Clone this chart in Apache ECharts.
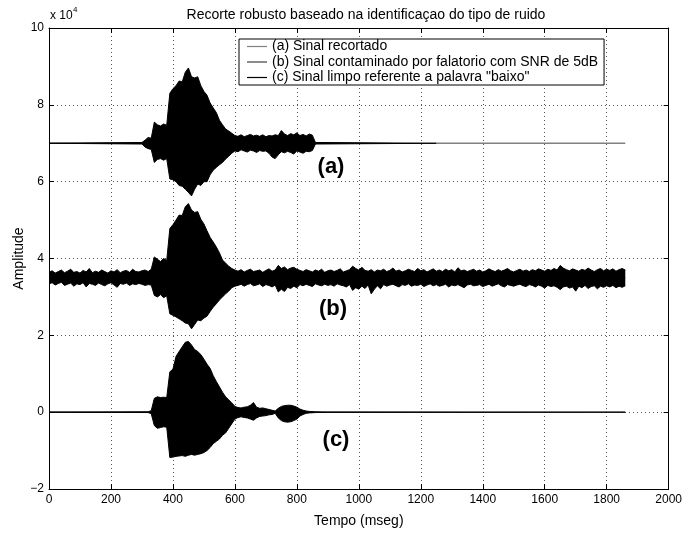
<!DOCTYPE html>
<html>
<head>
<meta charset="utf-8">
<script src="https://cdn.jsdelivr.net/npm/echarts@6/dist/echarts.min.js"></script>
<style>html,body{margin:0;padding:0;background:#fff;}#chart{width:685px;height:534px;}</style>
</head>
<body>
<div id="chart"></div>
<script>
// ---- data (amplitudes in units of 1e4) ----
const xTicks = [0, 200, 400, 600, 800, 1000, 1200, 1400, 1600, 1800, 2000];
const yTicks = [-2, 0, 2, 4, 6, 8, 10];
const names = [
  '(a) Sinal recortado',
  '(b) Sinal contaminado por falatorio com SNR de 5dB',
  '(c) Sinal limpo referente a palavra "baixo"'
];
const offsets = [7, 3.5, 0];

// (a) clipped signal envelope
const aT  = [0, 300, 310, 320, 330, 340, 350, 360, 370, 380, 390, 400, 410, 420, 430, 440, 450, 460, 470, 480, 490, 500, 510, 520, 530, 540, 550, 560, 570, 580, 590, 600, 610, 620, 630, 640, 650, 660, 670, 680, 690, 700, 710, 720, 730, 740, 750, 760, 770, 780, 790, 800, 810, 820, 830, 840, 850, 860, 1250];
const aHi = [0, 0.02, 0.08, 0.15, 0.13, 0.55, 0.48, 0.45, 0.5, 0.47, 1.3, 1.42, 1.5, 1.62, 1.6, 1.85, 1.96, 1.73, 1.7, 1.73, 1.5, 1.35, 1.25, 1.05, 0.92, 0.8, 0.6, 0.48, 0.37, 0.32, 0.26, 0.2, 0.18, 0.22, 0.17, 0.2, 0.23, 0.19, 0.21, 0.18, 0.22, 0.17, 0.2, 0.19, 0.22, 0.2, 0.33, 0.24, 0.2, 0.25, 0.22, 0.27, 0.2, 0.23, 0.19, 0.24, 0.21, 0.02, 0];
const aLo = [0, -0.02, -0.1, -0.14, -0.16, -0.5, -0.42, -0.4, -0.44, -0.4, -0.93, -0.95, -1.0, -1.1, -1.12, -1.2, -1.28, -1.37, -1.2, -1.06, -1.1, -1.0, -1.0, -0.82, -0.7, -0.63, -0.56, -0.5, -0.41, -0.34, -0.26, -0.2, -0.22, -0.17, -0.2, -0.23, -0.18, -0.2, -0.24, -0.19, -0.21, -0.2, -0.26, -0.36, -0.4, -0.3, -0.22, -0.25, -0.21, -0.24, -0.28, -0.2, -0.23, -0.26, -0.21, -0.22, -0.19, -0.02, 0];
const aTailT = [1250, 1860];
const aTail  = [0, 0];

// (b) noisy signal envelope, sampled every 10 ms from 0 to 1860 ms
const bStep = 10;
const bHi = [
  0.14, 0.18, 0.12, 0.16, 0.2, 0.13, 0.17, 0.22, 0.14, 0.16,
  0.12, 0.19, 0.15, 0.24, 0.13, 0.17, 0.14, 0.2, 0.16, 0.12,
  0.18, 0.15, 0.21, 0.13, 0.17, 0.19, 0.14, 0.22, 0.16, 0.15,
  0.18, 0.2, 0.16, 0.22,
  0.54, 0.48, 0.42, 0.5, 0.45, 1.28, 1.38, 1.5, 1.63, 1.62, 1.85, 1.93, 1.76, 1.7, 1.72, 1.52, 1.4, 1.22, 1.05, 0.93, 0.8, 0.65, 0.46, 0.38, 0.3, 0.24, 0.2,
  0.17, 0.21, 0.15, 0.19, 0.22, 0.16, 0.18, 0.2, 0.14, 0.19,
  0.23, 0.17, 0.2, 0.32, 0.24, 0.28, 0.21, 0.25, 0.27, 0.22,
  0.19, 0.16, 0.21, 0.18, 0.15, 0.2, 0.17, 0.22, 0.14, 0.18,
  0.2, 0.16, 0.19, 0.23, 0.15, 0.18, 0.21, 0.3, 0.24, 0.2,
  0.27, 0.19, 0.17, 0.21, 0.15, 0.2, 0.18, 0.22, 0.16, 0.19,
  0.25, 0.17, 0.2, 0.15, 0.18, 0.22, 0.19, 0.16, 0.24, 0.18,
  0.21, 0.15, 0.19, 0.23, 0.17, 0.2, 0.16, 0.22, 0.18, 0.21,
  0.15, 0.26, 0.18, 0.2, 0.16, 0.19, 0.22, 0.17, 0.2, 0.15,
  0.18, 0.23, 0.19, 0.16, 0.21, 0.17, 0.2, 0.24, 0.18, 0.15,
  0.19, 0.22, 0.17, 0.2, 0.16, 0.21, 0.18, 0.23, 0.2, 0.17,
  0.22, 0.19, 0.24, 0.2, 0.32, 0.25, 0.21, 0.18, 0.23, 0.2,
  0.17, 0.22, 0.19, 0.25, 0.2, 0.16, 0.21, 0.24, 0.18, 0.22,
  0.19, 0.23, 0.17, 0.21, 0.24, 0.2
];
const bLo = [
  -0.16, -0.13, -0.19, -0.15, -0.12, -0.2, -0.17, -0.14, -0.22, -0.16,
  -0.18, -0.13, -0.24, -0.15, -0.17, -0.2, -0.14, -0.18, -0.21, -0.16,
  -0.13, -0.19, -0.25, -0.15, -0.17, -0.14, -0.2, -0.16, -0.18, -0.15,
  -0.17, -0.2, -0.18, -0.19,
  -0.46, -0.5, -0.44, -0.52, -0.47, -0.94, -0.98, -1.02, -1.07, -1.12, -1.18, -1.2, -1.33, -1.22, -1.1, -1.12, -1.05, -1.0, -0.88, -0.77, -0.68, -0.58, -0.5, -0.42, -0.35, -0.26, -0.22,
  -0.2, -0.17, -0.22, -0.18, -0.15, -0.21, -0.19, -0.16, -0.23, -0.18,
  -0.2, -0.24, -0.19, -0.37, -0.3, -0.36, -0.25, -0.28, -0.22, -0.26,
  -0.18, -0.21, -0.17, -0.2, -0.23, -0.16, -0.19, -0.21, -0.17, -0.2,
  -0.18, -0.22, -0.16, -0.19, -0.21, -0.24, -0.18, -0.33, -0.26, -0.3,
  -0.22, -0.28, -0.19, -0.42, -0.3, -0.21, -0.29, -0.18, -0.22, -0.19,
  -0.17, -0.21, -0.24, -0.18, -0.2, -0.16, -0.22, -0.19, -0.2, -0.17,
  -0.23, -0.19, -0.16, -0.21, -0.18, -0.22, -0.2, -0.17, -0.24, -0.19,
  -0.21, -0.18, -0.22, -0.26, -0.19, -0.17, -0.21, -0.2, -0.18, -0.23,
  -0.2, -0.17, -0.22, -0.19, -0.16, -0.21, -0.24, -0.18, -0.2, -0.22,
  -0.19, -0.17, -0.21, -0.23, -0.18, -0.2, -0.24, -0.19, -0.22, -0.27,
  -0.2, -0.23, -0.21, -0.25, -0.31, -0.24, -0.22, -0.27, -0.24, -0.35,
  -0.22, -0.26, -0.2, -0.28, -0.23, -0.21, -0.29, -0.22, -0.25, -0.21,
  -0.24, -0.2, -0.26, -0.22, -0.25, -0.21
];

// (c) clean reference signal envelope
const cT  = [0, 320, 330, 340, 350, 360, 370, 380, 390, 400, 410, 420, 430, 440, 450, 460, 470, 480, 490, 500, 510, 520, 530, 540, 550, 560, 570, 580, 590, 600, 610, 620, 630, 640, 650, 660, 670, 680, 690, 700, 710, 720, 730, 740, 750, 760, 770, 780, 790, 800, 810, 820, 830, 840, 860, 900, 1860];
const cHi = [0, 0.01, 0.04, 0.36, 0.4, 0.38, 0.39, 0.38, 1.05, 1.12, 1.45, 1.58, 1.7, 1.82, 1.84, 1.75, 1.63, 1.58, 1.5, 1.38, 1.25, 1.14, 0.95, 0.8, 0.66, 0.52, 0.4, 0.32, 0.24, 0.15, 0.12, 0.11, 0.13, 0.14, 0.18, 0.25, 0.13, 0.1, 0.11, 0.09, 0.07, 0.05, 0.03, 0.1, 0.15, 0.17, 0.18, 0.18, 0.16, 0.13, 0.08, 0.05, 0.03, 0.02, 0.01, 0, 0];
const cLo = [0, -0.01, -0.04, -0.35, -0.42, -0.4, -0.38, -0.39, -1.18, -1.17, -1.15, -1.14, -1.13, -1.15, -1.12, -1.1, -1.12, -1.1, -1.08, -1.05, -1.0, -0.92, -0.82, -0.76, -0.7, -0.6, -0.54, -0.42, -0.3, -0.18, -0.14, -0.12, -0.14, -0.15, -0.18, -0.21, -0.15, -0.11, -0.1, -0.09, -0.07, -0.06, -0.03, -0.15, -0.22, -0.25, -0.26, -0.25, -0.22, -0.18, -0.1, -0.06, -0.03, -0.02, -0.01, 0, 0];

const legendColors = ['#808080', '#404040', '#000000'];
const FONT = 'Liberation Sans, Arial, Helvetica, sans-serif';

// ---- build series ----
function pts(ts, vs, off) { return ts.map((t, i) => [t, off + vs[i]]); }
const bT = bHi.map((_, i) => i * bStep);
const SEAM = 0.012; // tiny overlap of the two half-fills to avoid an antialias seam

function band(name, ts, vs, off, dir) {
  return {
    name: name, type: 'line', data: pts(ts, vs, off), showSymbol: false, symbol: 'none',
    silent: true, animation: false, z: 3,
    lineStyle: { color: '#000', width: 1 },
    itemStyle: { color: '#000' },
    areaStyle: { color: '#000', opacity: 1, origin: off - dir * SEAM }
  };
}

const series = [
  { name: names[0], type: 'line', data: pts(aTailT, aTail, offsets[0]), showSymbol: false, symbol: 'none', animation: false,
    lineStyle: { color: '#808080', width: 1.6 }, itemStyle: { color: '#808080' }, z: 2 },
  band(names[0], aT, aHi, offsets[0], 1),
  band(names[0], aT, aLo, offsets[0], -1),
  band(names[1], bT, bHi, offsets[1], 1),
  band(names[1], bT, bLo, offsets[1], -1),
  band(names[2], cT, cHi, offsets[2], 1),
  band(names[2], cT, cLo, offsets[2], -1)
];

function tickCfg() { return { show: true, inside: true, length: 5, lineStyle: { color: '#000', width: 1 } }; }
function lineCfg() { return { show: true, onZero: false, lineStyle: { color: '#000', width: 1 } }; }

const chart = echarts.init(document.getElementById('chart'), null, { renderer: 'canvas' });
chart.setOption({
  animation: false,
  backgroundColor: '#fff',
  textStyle: { fontFamily: FONT },
  title: {
    text: 'Recorte robusto baseado na identificaçao do tipo de ruido',
    left: 361, top: 3, textAlign: 'center',
    textStyle: { fontSize: 14, fontWeight: 'normal', color: '#000', fontFamily: FONT }
  },
  grid: { left: 49, right: 14, top: 28, bottom: 45, containLabel: false },
  legend: {
    data: names.map((n, i) => ({ name: n, icon: 'rect', itemStyle: { color: legendColors[i] } })),
    orient: 'vertical', left: 239, top: 39,
    itemWidth: 20, itemHeight: 1.2, itemGap: 0.5,
    padding: [0, 6, 0, 8],
    backgroundColor: '#fff', borderColor: '#000', borderWidth: 1, borderRadius: 0,
    selectedMode: false,
    textStyle: { fontSize: 14, color: '#000', fontFamily: FONT, lineHeight: 15 },
    z: 10
  },
  xAxis: [
    {
      type: 'value', min: xTicks[0], max: xTicks[xTicks.length - 1], interval: 200,
      position: 'bottom', axisLine: lineCfg(), axisTick: tickCfg(),
      name: 'Tempo (mseg)', nameLocation: 'middle', nameGap: 25, nameMoveOverlap: false,
      nameTextStyle: { fontSize: 14, color: '#000', fontFamily: FONT },
      axisLabel: { show: true, color: '#000', fontSize: 12, margin: 5, fontFamily: FONT, formatter: v => String(v) },
      splitLine: { show: true, lineStyle: { color: '#555', width: 1, type: [1, 3] } }
    },
    {
      type: 'value', min: xTicks[0], max: xTicks[xTicks.length - 1], interval: 200,
      position: 'top', axisLine: lineCfg(), axisTick: tickCfg(),
      axisLabel: { show: false }, splitLine: { show: false }
    }
  ],
  yAxis: [
    {
      type: 'value', min: yTicks[0], max: yTicks[yTicks.length - 1], interval: 2,
      position: 'left', axisLine: lineCfg(), axisTick: tickCfg(),
      name: 'Amplitude', nameLocation: 'middle', nameGap: 23, nameRotate: 90, nameMoveOverlap: false,
      nameTextStyle: { fontSize: 14, color: '#000', fontFamily: FONT },
      axisLabel: { show: true, color: '#000', fontSize: 12, margin: 5, fontFamily: FONT,
        formatter: v => String(v).replace('-', '\u2212') },
      splitLine: { show: true, lineStyle: { color: '#555', width: 1, type: [1, 3] } }
    },
    {
      type: 'value', min: yTicks[0], max: yTicks[yTicks.length - 1], interval: 2,
      position: 'right', axisLine: lineCfg(), axisTick: tickCfg(),
      axisLabel: { show: false }, splitLine: { show: false }
    }
  ],
  graphic: [
    { type: 'text', left: 50, top: 10, style: { text: 'x 10', fill: '#000', font: '12px ' + FONT } },
    { type: 'text', left: 73, top: 6, style: { text: '4', fill: '#000', font: '8px ' + FONT } },
    { type: 'text', x: 331, y: 167, style: { text: '(a)', fill: '#000', font: 'bold 22px ' + FONT, textAlign: 'center', textVerticalAlign: 'middle' }, z: 20 },
    { type: 'text', x: 333, y: 309, style: { text: '(b)', fill: '#000', font: 'bold 22px ' + FONT, textAlign: 'center', textVerticalAlign: 'middle' }, z: 20 },
    { type: 'text', x: 336, y: 440, style: { text: '(c)', fill: '#000', font: 'bold 22px ' + FONT, textAlign: 'center', textVerticalAlign: 'middle' }, z: 20 }
  ],
  series: series
});
</script>
</body>
</html>
